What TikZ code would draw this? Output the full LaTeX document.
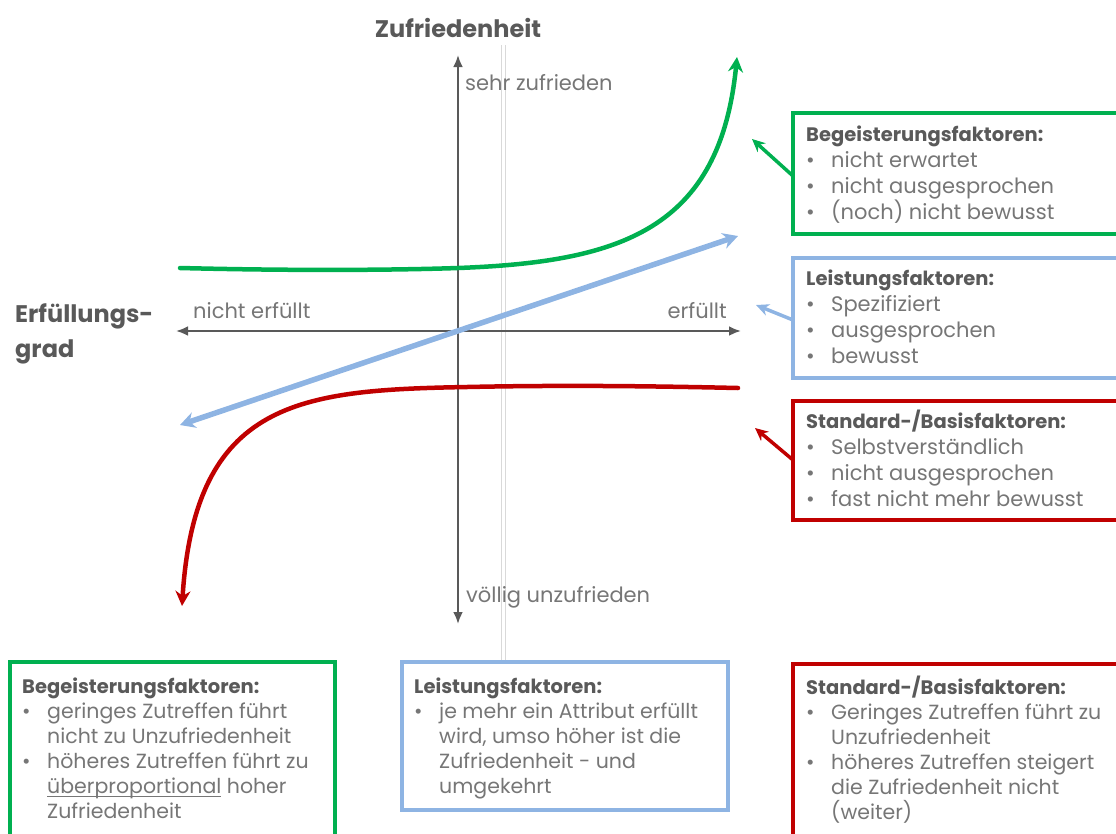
\documentclass[tikz,border=0pt]{standalone}
\usepackage{fontspec}
\setmainfont{Poppins}
\usetikzlibrary{arrows.meta}
\definecolor{cgreen}{HTML}{00B050}
\definecolor{cblue}{HTML}{8EB4E3}
\definecolor{cred}{HTML}{C00000}
\definecolor{caxis}{HTML}{595959}
\definecolor{chead}{HTML}{595959}
\definecolor{cbody}{HTML}{767676}
\newcommand{\bul}[1]{\makebox[25pt][l]{\textbullet}#1}
\newcommand{\ind}[1]{\hspace*{25pt}#1}
\newcommand{\hd}[1]{{\bfseries\fontsize{19.5}{26}\selectfont\color{chead}#1}}
\newcommand{\ulin}[1]{\setbox0\hbox{#1}\rlap{\rule[-3pt]{\wd0}{1pt}}\box0\relax}
\tikzset{
  axis/.style={draw=caxis, line width=2.5pt, {Latex[length=12pt,width=10pt]}-{Latex[length=12pt,width=10pt]}},
  lbl/.style={text=cbody, font=\fontsize{21}{24}\selectfont, inner sep=0pt},
  bigl/.style={text=chead, font=\bfseries\fontsize{24}{35}\selectfont, inner sep=0pt, align=left},
  frame/.style={line width=3.5pt},
  boxtxt/.style={text=cbody, font=\fontsize{21}{26}\selectfont, inner sep=0pt, align=left, anchor=north west},
  btxt/.style={text=cbody, font=\fontsize{20.5}{25}\selectfont, inner sep=0pt, align=left, anchor=north west},
  curve/.style={line width=4.5pt, line cap=round},
  pointer/.style={line width=3.5pt, -{Stealth[length=13pt,width=12pt]}}
}
\begin{document}
\begin{tikzpicture}[x=1pt,y=-1pt]
\useasboundingbox (0,0) rectangle (1116,833);
\clip (0,0) rectangle (1116,833);
% faint guide lines
\coordinate (g1t) at (501.5,45); \coordinate (g1b) at (501.5,660);
\coordinate (g2t) at (505,45); \coordinate (g2b) at (505,660);
\draw[black!15, line width=0.6pt] (g1t) -- (g1b);
\draw[black!15, line width=0.6pt] (g2t) -- (g2b);
% axes
\coordinate (vt) at (458,55); \coordinate (vb) at (458,624);
\coordinate (hl) at (176,331); \coordinate (hr) at (741,331);
\draw[axis] (vb) -- (vt);
\draw[axis] (hl) -- (hr);
\node[bigl, anchor=base] (title) at (458,37) {Zufriedenheit};
\node[bigl, anchor=north west] (erf) at (15,303) {Erfüllungs-\\grad};
\node[lbl, anchor=base west] (sehr) at (465,90) {sehr zufrieden};
\node[lbl, anchor=base west] (voellig) at (466,602) {völlig unzufrieden};
\node[lbl, anchor=base west] (nerf) at (193,318) {nicht erfüllt};
\node[lbl, anchor=base east] (erfuellt) at (727,318) {erfüllt};
% curves
\coordinate (gs) at (180,268); \coordinate (gm) at (458,268); \coordinate (ge) at (737,57);
\draw[curve, cgreen, -{Stealth[length=15pt,width=15pt]}] (gs) .. controls (300,271) and (400,270) .. (gm) .. controls (620,262) and (720,230) .. (ge);
\coordinate (bs) at (180,425); \coordinate (be) at (738,236);
\draw[line width=5.5pt, cblue, {Stealth[length=15pt,width=16pt]}-{Stealth[length=15pt,width=16pt]}] (bs) -- (be);
\coordinate (rs) at (738,388); \coordinate (rm) at (467,387); \coordinate (re) at (182,606);
\draw[curve, cred, -{Stealth[length=15pt,width=15pt]}] (rs) .. controls (650,386) and (560,385) .. (rm) .. controls (300,390) and (195,400) .. (re);
% right boxes
\draw[frame, cgreen] (793,113) rectangle (1125,234);
\draw[frame, cblue] (793,258) rectangle (1125,378);
\draw[frame, cred] (793,401) rectangle (1125,520);
\node[boxtxt] (rg) at (806,126) {\hd{Begeisterungsfaktoren:}\\\bul{nicht erwartet}\\\bul{nicht ausgesprochen}\\\bul{(noch) nicht bewusst}};
\node[boxtxt] (rb) at (806,270) {\hd{Leistungsfaktoren:}\\\bul{Spezifiziert}\\\bul{ausgesprochen}\\\bul{bewusst}};
\node[boxtxt] (rr) at (806,410) {\hd{Standard-/Basisfaktoren:}\\\bul{Selbstverständlich}\\\bul{nicht ausgesprochen}\\\bul{fast nicht mehr bewusst}};
\coordinate (pg) at (793,176); \coordinate (pgt) at (752,139);
\coordinate (pb) at (793,320); \coordinate (pbt) at (756,305);
\coordinate (pr) at (793,460); \coordinate (prt) at (755,428);
\draw[pointer, cgreen] (pg) -- (pgt);
\draw[pointer, cblue] (pb) -- (pbt);
\draw[pointer, cred] (pr) -- (prt);
% bottom boxes
\draw[frame, cgreen] (10,662) rectangle (335,845);
\draw[frame, cblue] (402,662) rectangle (728,810);
\draw[frame, cred] (793,664) rectangle (1125,845);
\node[btxt] (bg) at (22,678) {\hd{Begeisterungsfaktoren:}\\\bul{geringes Zutreffen führt}\\\ind{nicht zu Unzufriedenheit}\\\bul{höheres Zutreffen führt zu}\\\ind{\ulin{überproportional} hoher}\\\ind{Zufriedenheit}};
\node[btxt] (bb) at (414,678) {\hd{Leistungsfaktoren:}\\\bul{je mehr ein Attribut erfüllt}\\\ind{wird, umso höher ist die}\\\ind{Zufriedenheit - und}\\\ind{umgekehrt}};
\node[btxt] (br) at (806,676) {\hd{Standard-/Basisfaktoren:}\\\bul{Geringes Zutreffen führt zu}\\\ind{Unzufriedenheit}\\\bul{höheres Zutreffen steigert}\\\ind{die Zufriedenheit nicht}\\\ind{(weiter)}};
\end{tikzpicture}
\end{document}
